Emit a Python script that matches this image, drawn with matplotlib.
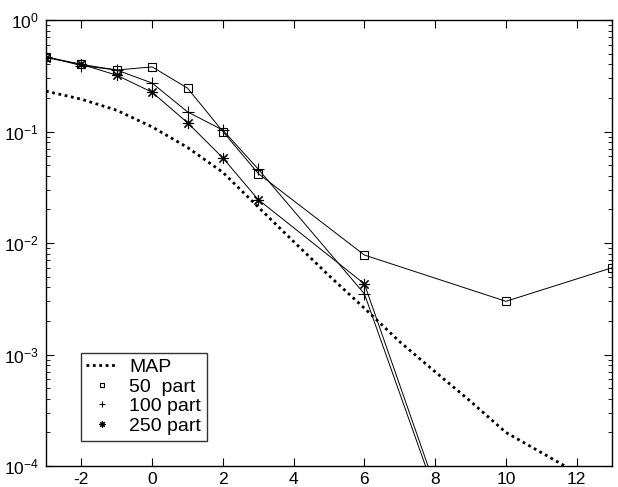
import matplotlib
matplotlib.use("Agg")
import matplotlib.pyplot as plt

plt.rcParams['font.family'] = ['Liberation Sans', 'DejaVu Sans']
plt.rcParams['mathtext.fontset'] = 'custom'
plt.rcParams['mathtext.rm'] = 'Liberation Sans'
plt.rcParams['axes.unicode_minus'] = False

# ---- data ----
x_map = [-3, -2, -1, 0, 1, 2, 3, 4, 5, 6, 7, 8, 9, 10, 11, 12, 13]
y_map = [0.23, 0.195, 0.155, 0.11, 0.072, 0.043, 0.021, 0.0103, 0.0051,
         0.0026, 0.0013, 0.0007, 0.00038, 0.0002, 0.000132, 0.000087, 0.00006]

x_50 = [-3, -2, -1, 0, 1, 2, 3, 6, 10, 13]
y_50 = [0.466, 0.40, 0.356, 0.38, 0.245, 0.10, 0.042, 0.0078, 0.0030, 0.006]

x_100 = [-3, -2, -1, 0, 1, 2, 3, 6, 10]
y_100 = [0.47, 0.39, 0.356, 0.272, 0.15, 0.103, 0.046, 0.0035, 9.3e-7]

x_250 = [-3, -2, -1, 0, 1, 2, 3, 6, 10]
y_250 = [0.46, 0.40, 0.32, 0.225, 0.12, 0.058, 0.0245, 0.0043, 1.0e-6]

xticks = [-2, 0, 2, 4, 6, 8, 10, 12]

fig = plt.figure(figsize=(6.18, 4.87), dpi=100)
ax = fig.add_axes([0.0744, 0.0431, 0.9160, 0.9158])

ax.plot(x_map, y_map, color='black', linestyle=(0, (1, 1.3)), linewidth=2.0,
        label='MAP')

# lines first, then markers (MATLAB style)
ax.plot(x_50, y_50, color='black', linewidth=0.7)
ax.plot(x_100, y_100, color='black', linewidth=0.7)
ax.plot(x_250, y_250, color='black', linewidth=0.7)

ax.plot(x_50, y_50, linestyle='none', marker='s', markersize=6,
        markerfacecolor='none', markeredgecolor='black', markeredgewidth=0.8,
        label='50  part')
ax.plot(x_100, y_100, linestyle='none', marker='+', markersize=8,
        markeredgecolor='black', markeredgewidth=0.8, label='100 part')
ax.plot(x_250, y_250, linestyle='none', marker=(8, 2, 0), markersize=8,
        markeredgecolor='black', markeredgewidth=0.8, label='250 part')

ax.set_yscale('log')
ax.set_xlim(-3, 13)
ax.set_ylim(1e-4, 1)
ax.set_xticks(xticks)

ax.tick_params(which='both', direction='in', top=True, right=True,
               labelsize=12.5, colors='black')
ax.tick_params(which='major', length=6, width=0.8)
ax.tick_params(which='minor', length=3, width=0.6)
ax.tick_params(axis='x', pad=4)
ax.tick_params(axis='y', pad=5)
for s in ax.spines.values():
    s.set_linewidth(1.0)

leg = ax.legend(loc='lower left', bbox_to_anchor=(0.061, 0.057),
                fontsize=14, frameon=True, fancybox=False,
                borderaxespad=0, handlelength=1.6, handletextpad=0.6,
                labelspacing=0.1, borderpad=0.3, markerscale=0.6)
leg.get_frame().set_edgecolor('black')
leg.get_frame().set_linewidth(1.0)

fig.savefig('out.png', dpi=100)
